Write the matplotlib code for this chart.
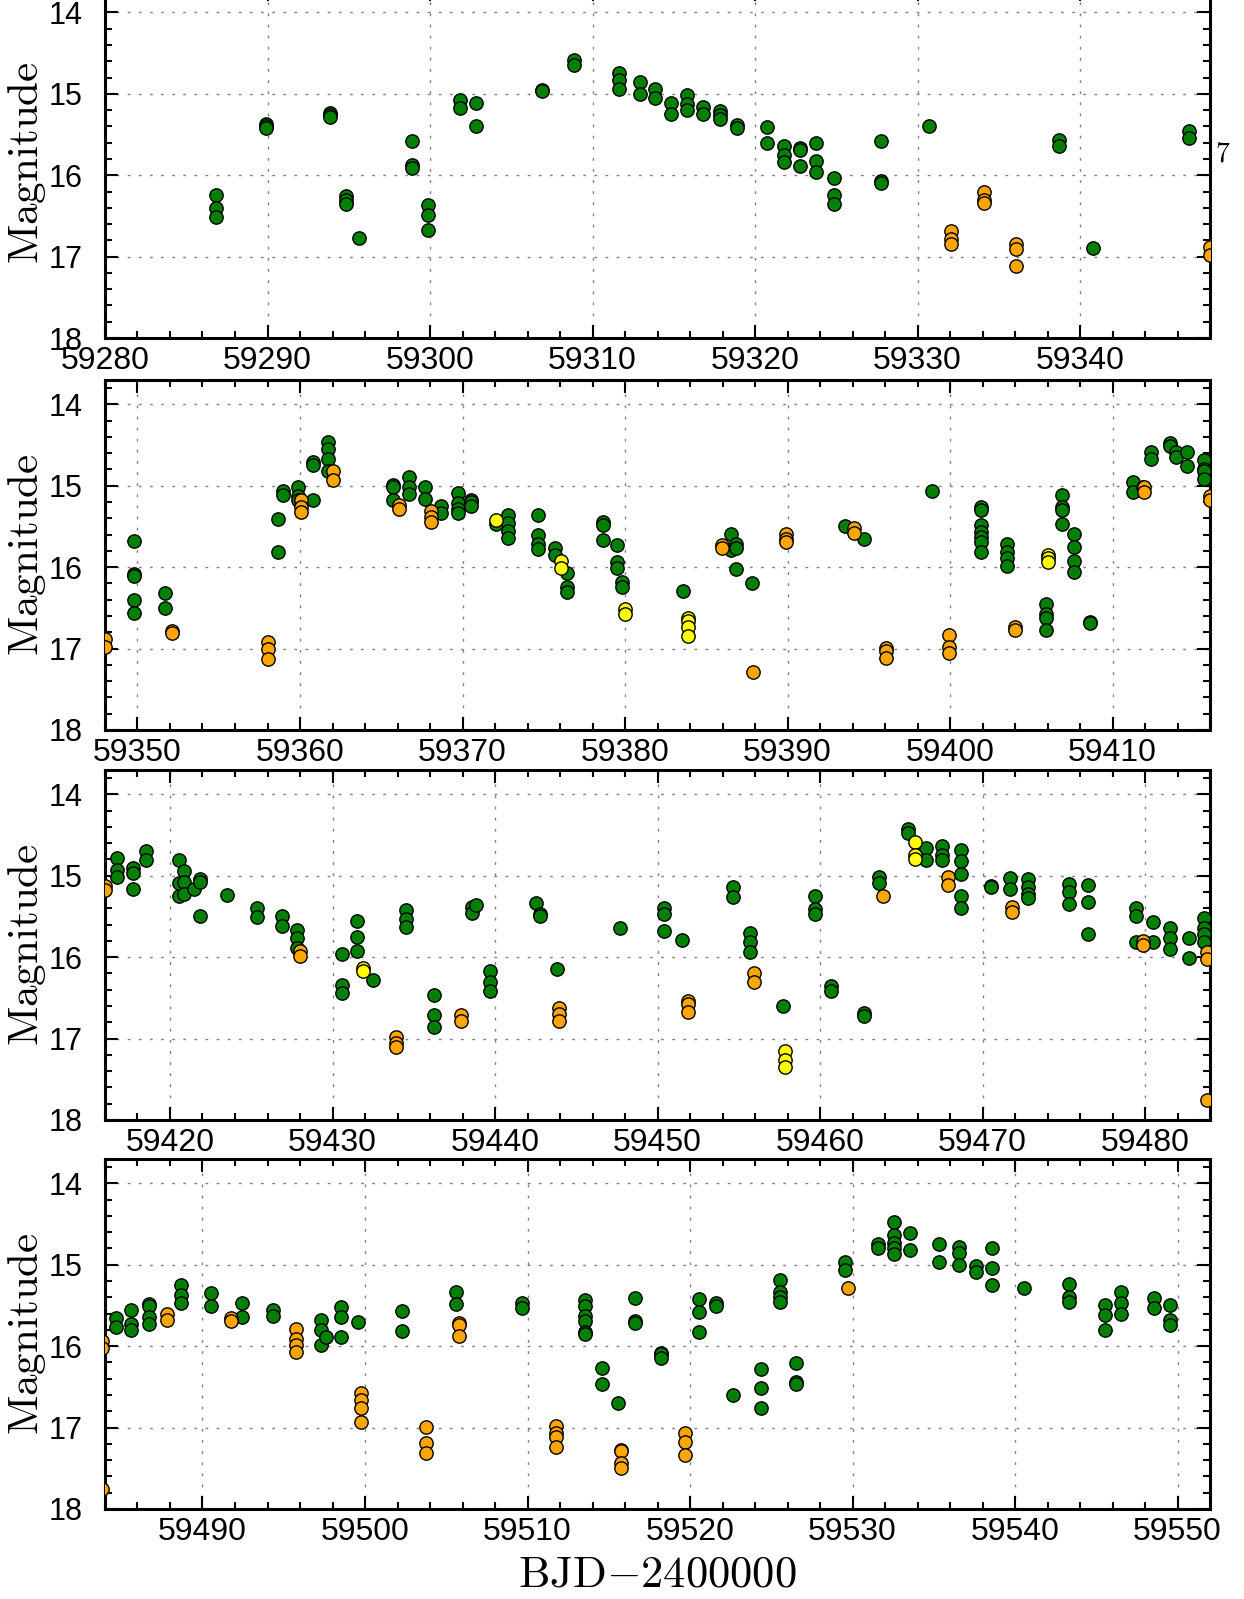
import matplotlib
matplotlib.use("Agg")
import matplotlib.pyplot as plt
from matplotlib.ticker import MultipleLocator

plt.rcParams['mathtext.fontset'] = 'cm'
plt.rcParams['font.family'] = ['Liberation Sans', 'DejaVu Sans']

# nights (BJD-2400000) and the magnitudes taken on each of them
green_t = [59286.84, 59289.90, 59293.87, 59294.86, 59295.63, 59298.90, 59299.86,
           59301.86, 59302.86, 59306.92, 59308.84, 59311.65, 59312.90, 59313.85,
           59314.86, 59315.84, 59316.80, 59317.83, 59318.88, 59320.76, 59321.79,
           59322.77, 59323.75, 59324.83, 59327.75, 59330.73, 59338.73, 59340.78,
           59346.73,
           59349.76, 59351.69, 59358.67, 59358.94, 59359.89, 59360.80, 59361.71,
           59365.70, 59366.70, 59367.70, 59368.68, 59369.70, 59370.50, 59372.04,
           59372.80, 59374.66, 59375.70, 59376.40, 59378.66, 59379.50, 59379.80,
           59383.57, 59386.55, 59386.84, 59387.80, 59393.55, 59394.70, 59398.86,
           59401.93, 59403.48, 59405.90, 59406.90, 59407.60, 59408.60, 59411.28,
           59411.90, 59412.35, 59413.55, 59413.90, 59414.57, 59415.64,
           59416.75, 59417.70, 59418.55, 59420.55, 59420.88, 59421.50, 59421.85,
           59423.50, 59425.35, 59426.88, 59427.80, 59430.57, 59431.53, 59432.50,
           59434.53, 59436.22, 59438.57, 59438.85, 59439.70, 59442.50, 59442.78,
           59443.80, 59447.67, 59450.37, 59451.49, 59454.62, 59455.67, 59457.74,
           59459.70, 59460.70, 59462.73, 59463.60, 59465.43, 59466.50, 59467.48,
           59468.70, 59470.53, 59471.72, 59472.77, 59475.34, 59476.50, 59479.47,
           59480.52, 59481.53, 59482.73, 59483.65,
           59484.66, 59485.63, 59486.68, 59488.66, 59490.55, 59492.44, 59494.31,
           59497.27, 59497.63, 59498.53, 59499.58, 59502.29, 59505.58, 59509.65,
           59513.56, 59514.59, 59515.58, 59516.62, 59518.20, 59520.56, 59521.59,
           59522.62, 59524.36, 59525.53, 59526.53, 59529.55, 59531.57, 59532.55,
           59533.53, 59535.32, 59536.57, 59537.60, 59538.57, 59540.58, 59543.31,
           59545.55, 59546.55, 59548.54, 59549.55]
green_mag = [[16.24, 16.40, 16.51], [15.37, 15.40, 15.42], [15.23, 15.26, 15.29],
             [16.25, 16.31, 16.35], [16.77], [15.58, 15.87, 15.91], [16.36, 16.49, 16.67],
             [15.07, 15.18], [15.11, 15.40], [14.95, 14.96], [14.59, 14.65],
             [14.75, 14.83, 14.94], [14.85, 15.00], [14.94, 15.05],
             [15.11, 15.245], [15.02, 15.12, 15.20], [15.16, 15.245], [15.21, 15.26, 15.31],
             [15.38, 15.42], [15.41, 15.60], [15.64, 15.75, 15.84],
             [15.67, 15.69, 15.89], [15.60, 15.82, 15.96], [16.04, 16.245, 16.35],
             [15.58, 16.065, 16.09], [15.39], [15.57, 15.645], [16.89],
             [15.46, 15.54],
             [15.68, 16.09, 16.11, 16.40, 16.56], [16.32, 16.50], [15.41, 15.81],
             [15.06, 15.11], [15.02, 15.12, 15.18], [14.71, 14.75, 15.18],
             [14.46, 14.55, 14.67, 14.82],
             [14.99, 15.02, 15.17], [14.89, 15.02, 15.10], [15.02, 15.16], [15.25, 15.34],
             [15.09, 15.21, 15.28, 15.33], [15.18, 15.20, 15.25], [15.47],
             [15.36, 15.46, 15.55, 15.64], [15.36, 15.60, 15.71, 15.78], [15.76, 15.85],
             [16.07, 16.24, 16.31], [15.45, 15.48, 15.67], [15.73, 15.94, 16.01],
             [16.18, 16.25],
             [16.29], [15.59, 15.79], [15.71, 15.77, 16.02], [16.19], [15.49], [15.65],
             [15.07],
             [15.26, 15.30, 15.48, 15.57, 15.63, 15.69, 15.82], [15.71, 15.81, 15.89, 15.98],
             [16.45, 16.57, 16.63, 16.77], [15.11, 15.26, 15.30, 15.47],
             [15.59, 15.75, 15.92, 16.06], [16.67, 16.69], [14.96, 15.08],
             [15.01], [14.58, 14.67], [14.47, 14.51], [14.58, 14.65], [14.59, 14.76],
             [14.68, 14.79, 14.82, 14.92],
             [14.78, 14.93, 15.01], [14.90, 14.97, 15.16], [14.69, 14.81],
             [14.81, 15.09, 15.25], [14.94, 15.08, 15.23], [15.16], [15.04, 15.08, 15.49],
             [15.24], [15.40, 15.51], [15.50, 15.62], [15.67, 15.77, 15.89],
             [15.96, 16.34, 16.44], [15.55, 15.75, 15.92], [16.28],
             [15.42, 15.53, 15.63], [16.46, 16.71, 16.86], [15.38, 15.46], [15.36],
             [16.17, 16.30, 16.41], [15.34], [15.47, 15.50],
             [16.15], [15.64], [15.40, 15.47, 15.68], [15.79], [15.14, 15.26],
             [15.70, 15.81, 15.94], [16.60],
             [15.25, 15.41, 15.47], [16.36, 16.41], [16.69, 16.72], [15.02, 15.09],
             [14.43, 14.47], [14.66, 14.81], [14.64, 14.74, 14.81],
             [14.68, 14.82, 14.98, 15.25, 15.40], [15.12, 15.14], [15.03, 15.16],
             [15.04, 15.14, 15.23, 15.27], [15.10, 15.20, 15.35], [15.11, 15.32, 15.72],
             [15.40, 15.49, 15.81],
             [15.57, 15.81], [15.64, 15.77, 15.90], [15.77, 16.01], [15.52, 15.64, 15.72, 15.81],
             [15.65, 15.76], [15.55, 15.73, 15.80], [15.48, 15.51, 15.64, 15.73],
             [15.25, 15.37, 15.47], [15.35, 15.51], [15.47, 15.64], [15.56, 15.63],
             [15.68, 15.80, 15.99], [15.89], [15.52, 15.64, 15.89], [15.70],
             [15.57, 15.81], [15.33, 15.48], [15.47, 15.53],
             [15.43, 15.51, 15.63, 15.69, 15.82, 15.85], [16.27, 16.47], [16.70],
             [15.41, 15.69, 15.72], [16.08, 16.10, 16.15], [15.42, 15.58, 15.82],
             [15.47, 15.51],
             [16.60], [16.28, 16.51, 16.76], [15.19, 15.33, 15.39, 15.46],
             [16.21, 16.44, 16.47], [14.97, 15.07], [14.75, 14.80],
             [14.47, 14.64, 14.73, 14.80, 14.87],
             [14.61, 14.82], [14.74, 14.97], [14.78, 14.86, 15.00], [15.01, 15.09],
             [14.80, 15.04, 15.25], [15.29], [15.24, 15.39, 15.46],
             [15.49, 15.62, 15.80], [15.33, 15.47, 15.61], [15.41, 15.53],
             [15.49, 15.68, 15.74]]

orange_t = [59332.09, 59334.08, 59336.09, 59348.00,
            59352.10, 59358.03, 59360.05, 59362.04, 59366.10, 59368.05, 59385.95,
            59387.87, 59389.90, 59394.10, 59396.04, 59399.96, 59403.97, 59411.95,
            59416.00,
            59427.97, 59433.90, 59437.93, 59443.92, 59451.89, 59455.91, 59463.87,
            59467.85, 59471.83, 59479.85, 59483.80,
            59487.80, 59491.78, 59495.76, 59499.76, 59503.78, 59505.76, 59511.74,
            59515.76, 59519.70, 59529.73]
orange_mag = [[16.69, 16.78, 16.85], [16.21, 16.31, 16.34], [16.84, 16.91, 17.11],
              [16.88, 16.98],
              [16.78, 16.81], [16.92, 17.00, 17.13], [15.18, 15.26, 15.32], [14.82, 14.93],
              [15.24, 15.29], [15.31, 15.39, 15.44], [15.73, 15.76],
              [17.29], [15.59, 15.65, 15.69], [15.52, 15.58], [16.99, 17.03, 17.12],
              [16.83, 16.98, 17.05], [16.73, 16.77], [15.02, 15.08],
              [15.13, 15.17],
              [15.93, 15.99], [16.98, 17.06, 17.11], [16.71, 16.79], [16.63, 16.70, 16.78],
              [16.54, 16.58, 16.68], [16.20, 16.30], [15.25],
              [15.02, 15.11], [15.39, 15.45], [15.80, 15.85], [15.94, 16.02, 17.75],
              [15.60, 15.68], [15.65, 15.69], [15.79, 15.91, 15.99, 16.07],
              [16.58, 16.66, 16.76, 16.93], [16.99, 17.19, 17.31], [15.71, 15.74, 15.87],
              [16.98, 17.07, 17.11, 17.24],
              [17.27, 17.29, 17.44, 17.50], [17.07, 17.18, 17.34], [15.29]]

yellow_t = [59372.04, 59376.05, 59380.00, 59383.90, 59406.05,
            59431.90, 59457.83, 59465.85]
yellow_mag = [[15.42], [15.93, 16.01], [16.51, 16.57], [16.62, 16.66, 16.74, 16.84],
              [15.85, 15.89, 15.94],
              [16.13, 16.17], [17.15, 17.26, 17.35], [14.58, 14.74, 14.79]]

panel_start = [59280, 59348, 59416, 59484]
panel_len = 68


def expand(ts, ms):
    xs, ys = [], []
    for t, m in zip(ts, ms):
        for v in m:
            xs.append(t)
            ys.append(v)
    return xs, ys


series = [(expand(green_t, green_mag), 'green'),
          (expand(orange_t, orange_mag), 'orange'),
          (expand(yellow_t, yellow_mag), 'yellow')]

fig = plt.figure(figsize=(12.44, 15.99), dpi=100)
bottoms = [0.7886, 0.5435, 0.2996, 0.0563]

for i in range(4):
    ax = fig.add_axes([0.0844, bottoms[i], 0.8883, 0.2189])
    for (xs, ys), c in series:
        ax.scatter(xs, ys, s=92, c=c, edgecolors='black', linewidths=1.0, zorder=3)
    ax.set_xlim(panel_start[i], panel_start[i] + panel_len)
    ax.set_ylim(18, 13.7)
    ax.xaxis.set_major_locator(MultipleLocator(10))
    ax.xaxis.set_minor_locator(MultipleLocator(2))
    ax.set_yticks([14, 15, 16, 17, 18])
    ax.yaxis.set_minor_locator(MultipleLocator(0.2))
    ax.ticklabel_format(useOffset=False, style='plain', axis='x')
    ax.tick_params(which='both', direction='in', top=True, right=True, width=1.5)
    ax.tick_params(which='major', length=9.5)
    ax.tick_params(which='minor', length=5)
    ax.tick_params(axis='x', pad=6, labelsize=23)
    ax.tick_params(axis='y', pad=16, labelsize=22)
    for sp in ax.spines.values():
        sp.set_linewidth(2.2)
    ax.grid(which='major', color='gray', linestyle=(0, (2, 6)), linewidth=1)
    ax.set_axisbelow(True)
    ax.set_ylabel(r'$\mathrm{Magnitude}$', fontsize=31, va='center')
    ax.yaxis.set_label_coords(-0.0705, 0.5)

fig.text(657 / 1244, 1 - 1575 / 1599, r'$\mathrm{BJD{-}2400000}$', fontsize=32,
         ha='center', va='center')
fig.text(1223 / 1244, 1 - 155 / 1599, r'$7$', fontsize=20, ha='center', va='center')

fig.savefig('out.png', dpi=100)
